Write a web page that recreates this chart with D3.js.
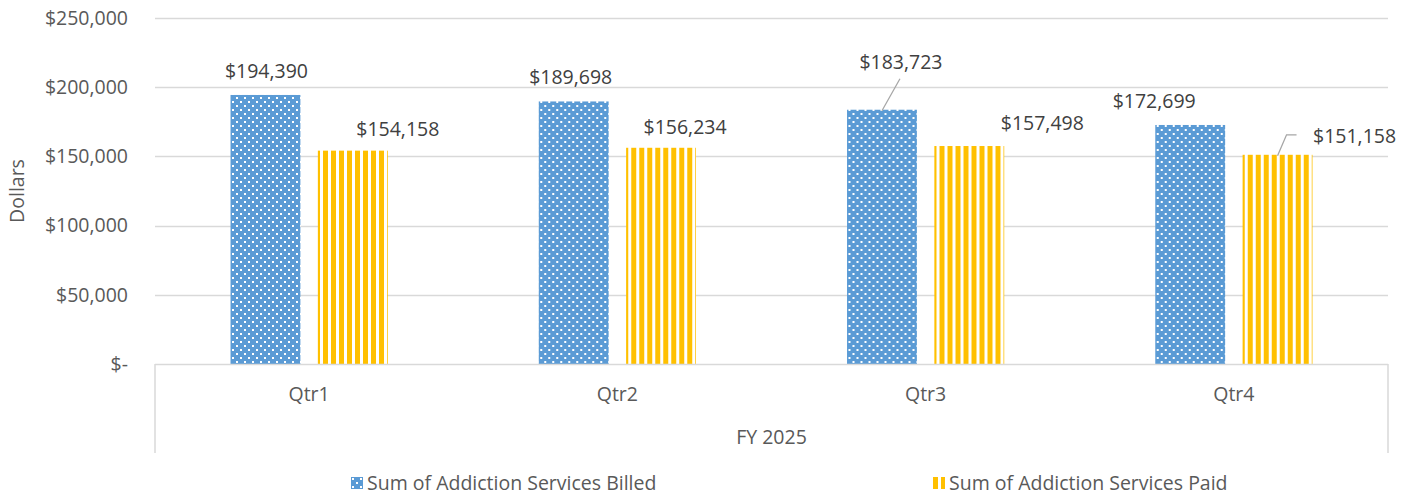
<!DOCTYPE html>
<html>
<head>
<meta charset="utf-8">
<script src="https://cdn.jsdelivr.net/npm/d3@7"></script>
<style>
  body { margin: 0; background: #fff; }
  text { font-family: "Open Sans", "Liberation Sans", sans-serif; }
</style>
</head>
<body>
<div id="chart"></div>
<script>
// Data
const quarters = ["Qtr1", "Qtr2", "Qtr3", "Qtr4"];
const seriesNames = ["Sum of Addiction Services Billed", "Sum of Addiction Services Paid"];
const billed = [194390, 189698, 183723, 172699];
const paid = [154158, 156234, 157498, 151158];
const yTicks = [0, 50000, 100000, 150000, 200000, 250000];
const groupLabel = "FY 2025";

// label nudges (dx, dy from top centre of bar), as placed in the original
const billedLabelShift = [[1, -24], [-3, -24], [19, -48], [-36, -24]];
const paidLabelShift = [[45, -21], [24, -21], [73, -23], [77, -19]];

const W = 1406, H = 495;
const plotLeft = 155, plotRight = 1388, plotTop = 18, base = 364;

const svg = d3.select("#chart").append("svg")
    .attr("width", W)
    .attr("height", H);

// patterns
const defs = svg.append("defs");
const dots = defs.append("pattern")
    .attr("id", "dots")
    .attr("patternUnits", "userSpaceOnUse")
    .attr("width", 8).attr("height", 8);
dots.append("rect").attr("width", 8).attr("height", 8).attr("fill", "#5B9BD5");
dots.append("rect").attr("x", 1).attr("y", 1).attr("width", 2).attr("height", 2).attr("fill", "#fff");
dots.append("rect").attr("x", 5).attr("y", 5).attr("width", 2).attr("height", 2).attr("fill", "#fff");

const stripes = defs.append("pattern")
    .attr("id", "stripes")
    .attr("patternUnits", "userSpaceOnUse")
    .attr("width", 8).attr("height", 8);
stripes.append("rect").attr("width", 8).attr("height", 8).attr("fill", "#fff");
stripes.append("rect").attr("x", 0).attr("width", 5).attr("height", 8).attr("fill", "#FFC000");

const fills = ["url(#dots)", "url(#stripes)"];

// Scales
const y = d3.scaleLinear().domain([0, 250000]).range([base, plotTop]);
const x = d3.scaleBand().domain(quarters).range([plotLeft, plotRight]).padding(0);
const bw = x.bandwidth();
const xs = d3.scaleBand().domain([0, 1])
    .range([bw * 0.245, bw * 0.755])
    .paddingInner(0.2);

// gridlines
svg.append("g")
    .selectAll("line")
    .data(yTicks.filter(d => d > 0))
    .enter()
    .append("line")
    .attr("x1", plotLeft).attr("x2", plotRight)
    .attr("y1", d => Math.round(y(d)) + 0.5)
    .attr("y2", d => Math.round(y(d)) + 0.5)
    .attr("stroke", "#D9D9D9")
    .attr("stroke-width", 1.3);

// y axis labels
const yFmt = d => d === 0 ? "$-" : "$" + d3.format(",")(d);
svg.append("g")
    .selectAll("text")
    .data(yTicks)
    .enter()
    .append("text")
    .attr("x", 128)
    .attr("y", d => y(d))
    .attr("dy", "0.35em")
    .attr("text-anchor", "end")
    .attr("font-size", 19.5)
    .attr("fill", "#595959")
    .text(yFmt);

svg.append("text")
    .attr("transform", `translate(24, ${(plotTop + base) / 2}) rotate(-90)`)
    .attr("text-anchor", "middle")
    .attr("font-size", 19.5)
    .attr("fill", "#595959")
    .text("Dollars");

// bars
const rows = quarters.map((q, i) => ({ q, i, vals: [billed[i], paid[i]] }));
const groups = svg.append("g")
    .selectAll("g")
    .data(rows)
    .enter()
    .append("g")
    .attr("transform", d => `translate(${x(d.q)},0)`);

groups.selectAll("rect")
    .data(d => d.vals.map((v, s) => ({ v, s })))
    .enter()
    .append("rect")
    .attr("x", d => xs(d.s))
    .attr("y", d => y(d.v))
    .attr("width", xs.bandwidth())
    .attr("height", d => base - y(d.v))
    .attr("fill", d => fills[d.s]);

// category axis box
const axis = svg.append("g").attr("stroke", "#D9D9D9").attr("stroke-width", 1.5).attr("fill", "none");
axis.append("line").attr("x1", plotLeft).attr("x2", plotRight).attr("y1", base + 0.5).attr("y2", base + 0.5);
axis.append("line").attr("x1", plotLeft).attr("x2", plotLeft).attr("y1", base).attr("y2", 453);
axis.append("line").attr("x1", plotRight).attr("x2", plotRight).attr("y1", base).attr("y2", 453);

svg.append("g")
    .selectAll("text")
    .data(quarters)
    .enter()
    .append("text")
    .attr("x", d => x(d) + bw / 2)
    .attr("y", 394)
    .attr("dy", "0.35em")
    .attr("text-anchor", "middle")
    .attr("font-size", 19.5)
    .attr("fill", "#595959")
    .text(d => d);

svg.append("text")
    .attr("x", (plotLeft + plotRight) / 2)
    .attr("y", 437)
    .attr("dy", "0.35em")
    .attr("text-anchor", "middle")
    .attr("font-size", 19.5)
    .attr("fill", "#595959")
    .text(groupLabel);

// data labels
const money = d => "$" + d3.format(",")(d);
const labels = [];
quarters.forEach((q, i) => {
    [billed[i], paid[i]].forEach((v, s) => {
        const shift = s === 0 ? billedLabelShift[i] : paidLabelShift[i];
        const bx = x(q) + xs(s) + xs.bandwidth() / 2;
        const by = y(v);
        labels.push({ v, bx, by, lx: bx + shift[0], ly: by + shift[1] });
    });
});

// leader lines for labels that were dragged far from their bar
const leaders = svg.append("g").attr("stroke", "#A6A6A6").attr("stroke-width", 1.3).attr("fill", "none");
// Qtr3 billed: straight line from label bottom to bar top
const l3 = labels[4];
leaders.append("path")
    .attr("d", `M${l3.lx - 1},${l3.ly + 17} L${l3.bx},${l3.by + 1}`);
// Qtr4 paid: short horizontal then down to bar
const l8 = labels[7];
leaders.append("path")
    .attr("d", `M${l8.lx - 58},${l8.ly - 1} L${l8.lx - 68},${l8.ly - 1} L${l8.bx},${l8.by + 1}`);

svg.append("g")
    .selectAll("text")
    .data(labels)
    .enter()
    .append("text")
    .attr("x", d => d.lx)
    .attr("y", d => d.ly)
    .attr("dy", "0.35em")
    .attr("text-anchor", "middle")
    .attr("font-size", 19.5)
    .attr("fill", "#404040")
    .text(d => money(d.v));

// legend
const legendX = [351, 933];
const legend = svg.append("g")
    .selectAll("g")
    .data(seriesNames)
    .enter()
    .append("g")
    .attr("transform", (d, i) => `translate(${legendX[i]}, 477)`);
legend.append("rect")
    .attr("width", 12).attr("height", 12)
    .attr("fill", (d, i) => fills[i]);
legend.append("text")
    .attr("x", 16)
    .attr("y", 6)
    .attr("dy", "0.35em")
    .attr("font-size", 19.5)
    .attr("fill", "#595959")
    .text(d => d);
</script>
</body>
</html>
